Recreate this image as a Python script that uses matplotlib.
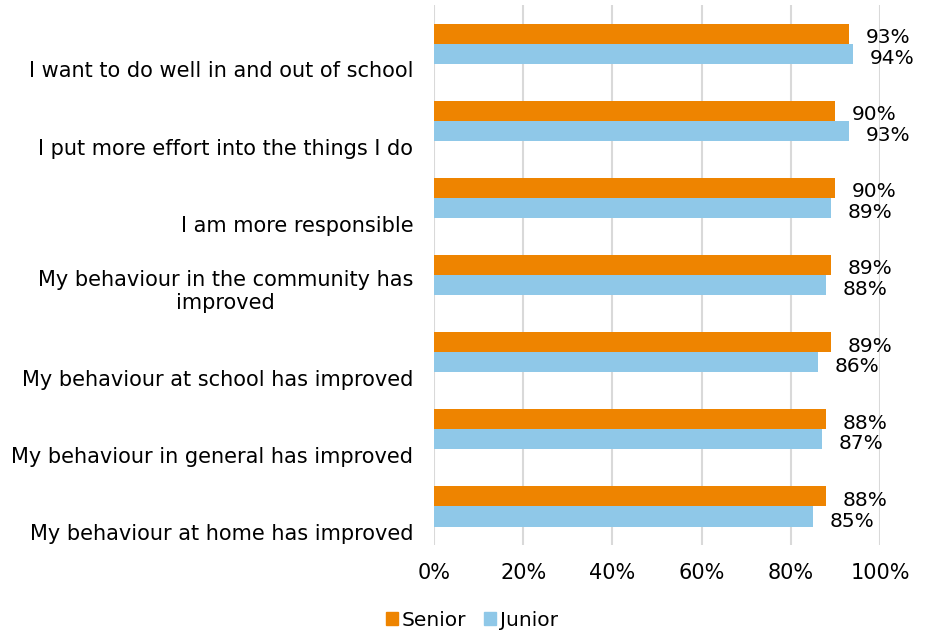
import numpy as np
import matplotlib.pyplot as plt
from matplotlib.patches import Patch

statements = [
    "I want to do well in and out of school",
    "I put more effort into the things I do",
    "I am more responsible",
    "My behaviour in the community has\nimproved",
    "My behaviour at school has improved",
    "My behaviour in general has improved",
    "My behaviour at home has improved",
]
senior = [93, 90, 90, 89, 89, 88, 88]
junior = [94, 93, 89, 88, 86, 87, 85]

col_senior = "#EE8400"
col_junior = "#8FC8E8"

plt.rcParams['font.family'] = ['DejaVu Sans']

fig = plt.figure(figsize=(9.3, 6.33), dpi=100)
ax = fig.add_axes([0.4667, 0.139, 0.4795, 0.853])

y = np.arange(len(statements))
h = 0.26
ax.barh(y - h / 2, senior, height=h, color=col_senior, zorder=3)
ax.barh(y + h / 2, junior, height=h, color=col_junior, zorder=3)

# value labels just right of each bar
for yi, s, j in zip(y, senior, junior):
    ax.annotate(f"{s}%", (s, yi - h / 2 + 0.05), xytext=(12, 0), textcoords="offset points",
                va="center", ha="left", fontsize=14.5)
    ax.annotate(f"{j}%", (j, yi + h / 2 + 0.06), xytext=(12, 0), textcoords="offset points",
                va="center", ha="left", fontsize=14.5)

ax.set_xlim(0, 100)
ax.set_ylim(len(statements) - 0.5, -0.5)
ax.set_xticks(np.arange(0, 101, 20))
ax.set_xticklabels([f"{v}%" for v in range(0, 101, 20)], fontsize=15)
# category names sit below their bar pair, last line on a common level
ax.set_yticks(y + 0.49)
ax.set_yticklabels(statements, fontsize=15, multialignment="center", va="bottom")
ax.tick_params(axis="y", length=0, pad=15)
ax.tick_params(axis="x", length=0, pad=13)

ax.grid(axis="x", color="#D9D9D9", linewidth=1.5, zorder=0)
for sp in ax.spines.values():
    sp.set_visible(False)

handles = [Patch(color=col_senior, label="Senior"), Patch(color=col_junior, label="Junior")]
fig.legend(handles=handles, loc="center", bbox_to_anchor=(472 / 930, 1 - 620 / 633),
           ncol=2, frameon=False, fontsize=14.5, handlelength=0.6, handleheight=0.6,
           handletextpad=0.2, columnspacing=0.9)

fig.savefig("out.png", dpi=100)
